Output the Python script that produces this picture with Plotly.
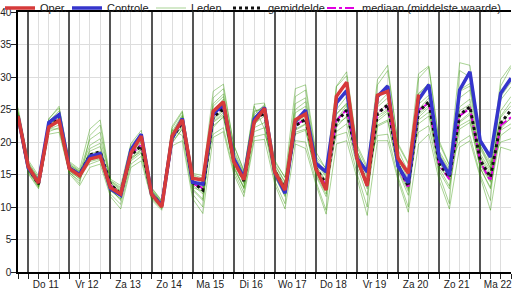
import plotly.graph_objects as go
import pandas as pd

# 6-hourly time steps, Wo 10 18:00 .. Ma 22 18:00
times = [t.strftime("%Y-%m-%d %H:%M") for t in pd.date_range("2024-07-10 18:00", periods=49, freq="6h")]
day_labels = ["Do 11", "Vr 12", "Za 13", "Zo 14", "Ma 15", "Di 16",
              "Wo 17", "Do 18", "Vr 19", "Za 20", "Zo 21", "Ma 22"]
day_noons = [t.strftime("%Y-%m-%d %H:%M") for t in pd.date_range("2024-07-11 12:00", periods=12, freq="D")]
midnights = [t.strftime("%Y-%m-%d %H:%M") for t in pd.date_range("2024-07-11 00:00", periods=12, freq="D")]

oper = [24.0, 16.2, 13.7, 22.3, 23.3, 15.9, 14.8, 17.4, 17.8, 13.0, 12.0, 18.3, 20.9,
        12.0, 10.0, 20.9, 23.4, 14.4, 14.2, 24.7, 26.2, 17.0, 14.2, 23.1, 25.2,
        15.4, 12.6, 23.4, 24.3, 15.9, 12.6, 27.0, 29.2, 17.5, 13.3, 27.2, 27.8,
        17.5, 15.2, 27.3]

controle = [24.0, 16.0, 13.8, 23.0, 24.2, 16.0, 15.0, 17.8, 18.2, 12.8, 11.8, 18.8, 21.2,
            12.0, 10.2, 20.6, 23.6, 13.8, 13.5, 24.3, 25.8, 17.5, 14.5, 23.5, 25.3,
            15.3, 12.1, 23.1, 24.9, 16.7, 15.4, 26.0, 27.9, 17.5, 15.4, 27.0, 28.6,
            16.3, 13.7, 26.5, 28.8, 17.6, 14.9, 28.0, 30.8, 20.2, 17.7, 27.5, 29.8]

gemiddelde = [24.0, 16.0, 13.5, 22.5, 23.5, 16.0, 15.0, 18.0, 18.5, 13.5, 12.0, 18.0, 19.4,
              12.0, 10.3, 20.6, 23.0, 13.8, 12.6, 23.8, 25.2, 17.3, 14.0, 23.3, 24.5,
              15.5, 12.8, 22.5, 23.5, 16.0, 13.5, 23.1, 24.9, 17.5, 13.4, 24.4, 25.7,
              16.5, 13.2, 24.7, 26.2, 16.7, 14.6, 24.2, 25.4, 17.2, 14.6, 22.9, 24.9]

mediaan = [24.0, 16.0, 13.6, 22.6, 23.6, 16.0, 15.0, 17.8, 18.3, 13.4, 12.0, 18.1, 19.6,
           12.0, 10.3, 20.7, 23.2, 13.6, 12.9, 24.0, 25.4, 17.2, 14.1, 23.3, 24.6,
           15.5, 12.6, 22.6, 23.5, 16.0, 13.3, 23.3, 25.0, 17.4, 13.2, 24.6, 25.5,
           16.3, 12.9, 24.9, 26.0, 16.5, 14.3, 24.0, 25.2, 17.0, 14.0, 22.6, 23.8]

lid01 = [25.3, 17.2, 14.8, 23.5, 25.5, 17.0, 15.8, 22.0, 23.4, 14.3, 13.3, 19.8, 21.8, 13.0, 11.0, 22.4, 24.8, 15.2, 14.8, 27.8, 28.9, 19.5, 15.5, 25.8, 26.0, 17.2, 14.5, 28.2, 28.8, 18.5, 15.8, 28.6, 30.8, 19.6, 16.2, 29.6, 31.8, 19.5, 16.6, 30.5, 31.7, 20.2, 16.5, 32.2, 31.8, 20.6, 16.8, 29.6, 31.8]
lid02 = [23.1, 15.1, 12.8, 21.2, 21.5, 15.1, 13.3, 16.1, 16.6, 11.6, 9.7, 16.1, 17.1, 11.1, 9.5, 19.4, 20.2, 11.3, 9.0, 20.7, 21.6, 15.1, 11.6, 20.2, 20.4, 13.5, 9.7, 19.7, 19.0, 13.5, 8.9, 19.7, 20.2, 14.6, 8.7, 20.2, 20.2, 14.1, 9.2, 19.7, 21.2, 14.1, 9.7, 19.2, 20.2, 14.6, 9.5, 19.2, 18.7]
lid03 = [24.5, 16.6, 14.2, 23.0, 24.4, 16.4, 15.3, 19.5, 20.5, 14.0, 12.8, 18.9, 20.6, 12.5, 10.7, 21.3, 24.0, 14.6, 13.8, 25.5, 27.0, 18.4, 15.0, 24.6, 25.5, 16.4, 13.8, 25.0, 26.2, 17.2, 14.8, 26.0, 27.8, 18.6, 15.0, 27.0, 28.8, 18.0, 15.0, 27.5, 29.0, 18.3, 15.6, 28.0, 29.0, 19.0, 15.9, 26.5, 28.5]
lid04 = [23.6, 15.6, 13.1, 22.0, 22.6, 15.6, 14.3, 17.0, 17.4, 12.8, 11.0, 17.1, 18.3, 11.5, 9.9, 20.0, 22.0, 12.8, 11.2, 22.5, 23.8, 16.4, 13.0, 22.2, 23.0, 14.6, 11.6, 21.2, 21.8, 15.0, 12.0, 21.6, 22.8, 16.3, 11.8, 22.6, 23.4, 15.5, 11.8, 22.8, 24.0, 15.5, 12.8, 22.0, 23.0, 16.0, 12.8, 21.0, 22.2]
lid05 = [24.1, 16.2, 13.7, 22.8, 24.0, 16.2, 15.2, 18.6, 19.3, 13.7, 12.3, 18.4, 19.9, 12.2, 10.4, 20.9, 23.5, 14.2, 13.1, 24.6, 26.0, 17.8, 14.4, 23.9, 25.2, 15.9, 13.2, 23.4, 24.6, 16.5, 14.0, 24.2, 26.0, 18.0, 14.0, 25.4, 26.8, 17.0, 13.8, 25.8, 27.2, 17.2, 15.2, 25.4, 26.6, 17.8, 15.2, 24.0, 26.2]
lid06 = [23.9, 15.8, 13.3, 22.3, 23.1, 15.8, 14.7, 17.5, 17.9, 13.2, 11.6, 17.6, 18.9, 11.8, 10.1, 20.3, 22.5, 13.4, 12.0, 23.1, 24.5, 16.9, 13.6, 22.8, 24.0, 15.1, 12.3, 21.8, 22.7, 15.6, 13.0, 22.3, 24.0, 17.1, 12.8, 23.6, 24.8, 16.1, 12.7, 23.8, 25.3, 16.3, 14.1, 23.2, 24.5, 16.7, 14.0, 22.0, 23.8]
lid07 = [24.8, 16.9, 14.5, 22.0, 22.0, 15.4, 13.6, 21.0, 22.6, 13.9, 12.6, 19.6, 21.2, 12.9, 10.9, 21.9, 21.0, 12.0, 10.0, 26.8, 28.2, 19.6, 15.6, 25.5, 22.0, 14.0, 10.5, 27.0, 28.0, 17.8, 15.9, 21.0, 21.5, 15.2, 10.0, 28.8, 31.0, 19.8, 16.8, 21.5, 22.5, 15.0, 10.5, 31.0, 30.0, 19.5, 16.5, 20.0, 20.5]
lid08 = [23.4, 15.3, 13.0, 23.6, 25.2, 16.8, 15.6, 16.6, 17.2, 12.0, 10.4, 16.6, 17.8, 11.3, 9.7, 22.1, 24.6, 15.0, 14.4, 21.2, 22.2, 15.6, 12.2, 20.8, 21.2, 16.9, 14.6, 20.2, 20.0, 14.0, 9.5, 28.5, 30.2, 19.2, 15.8, 21.0, 21.2, 14.6, 10.0, 29.8, 31.5, 19.8, 16.4, 20.0, 21.0, 15.0, 11.0, 28.6, 31.5]
lid09 = [24.3, 16.4, 14.0, 21.6, 22.2, 15.3, 14.0, 19.0, 19.8, 12.5, 11.3, 19.2, 20.2, 12.6, 10.6, 20.0, 23.8, 14.8, 13.4, 22.2, 24.0, 16.0, 13.0, 24.2, 25.8, 16.0, 13.4, 24.5, 25.5, 16.8, 14.6, 25.0, 27.0, 18.5, 14.6, 23.2, 24.5, 16.9, 13.6, 26.8, 28.6, 18.0, 15.4, 23.0, 24.2, 16.4, 13.8, 24.8, 27.0]
lid10 = [23.7, 15.9, 13.9, 23.2, 24.8, 16.5, 15.5, 18.2, 18.6, 13.4, 12.5, 17.5, 18.5, 11.8, 10.2, 21.0, 22.2, 13.0, 12.4, 24.8, 26.6, 17.0, 14.2, 22.6, 24.8, 15.4, 12.2, 22.0, 22.8, 15.3, 12.5, 23.5, 25.6, 17.8, 13.5, 25.8, 27.5, 17.5, 14.2, 25.0, 26.8, 16.9, 14.8, 26.8, 28.0, 18.2, 15.6, 23.8, 25.6]
lid11 = [24.6, 16.5, 13.4, 22.6, 23.8, 16.1, 14.9, 17.2, 17.6, 13.1, 12.0, 18.2, 19.6, 12.3, 10.5, 20.5, 23.3, 14.0, 12.8, 23.6, 25.0, 18.0, 14.8, 23.6, 24.2, 15.6, 12.9, 23.0, 23.8, 16.2, 13.8, 22.8, 23.8, 17.2, 13.6, 24.0, 25.0, 16.5, 13.4, 24.2, 25.6, 16.2, 14.4, 24.8, 25.8, 17.6, 14.6, 22.4, 23.6]
lid12 = [23.3, 15.4, 13.6, 22.9, 23.4, 15.9, 15.0, 17.8, 18.3, 13.8, 12.1, 18.0, 19.2, 11.9, 10.3, 20.6, 23.1, 13.7, 12.3, 23.4, 24.8, 17.2, 13.8, 23.0, 24.6, 15.2, 12.6, 22.6, 23.4, 15.8, 13.2, 23.4, 25.1, 17.4, 13.1, 24.4, 26.0, 16.2, 12.9, 24.5, 26.0, 16.8, 14.5, 24.3, 25.5, 17.0, 14.3, 23.0, 24.6]
lid13 = [24.2, 16.7, 14.4, 22.2, 23.0, 16.6, 15.4, 20.4, 21.5, 14.1, 13.0, 18.7, 20.0, 12.7, 10.8, 21.6, 24.2, 14.9, 14.0, 25.9, 27.4, 18.8, 15.2, 24.8, 25.0, 16.6, 13.9, 25.9, 26.8, 17.6, 15.0, 24.4, 25.8, 17.0, 13.2, 22.4, 23.2, 15.7, 12.4, 23.4, 24.6, 16.0, 13.2, 22.5, 23.4, 16.0, 13.0, 21.8, 22.8]
lid14 = [23.8, 15.7, 13.2, 22.4, 23.6, 15.5, 14.4, 17.6, 18.0, 12.6, 11.2, 17.3, 18.8, 11.6, 9.9, 19.8, 22.0, 12.6, 11.0, 23.0, 24.2, 16.2, 12.8, 21.6, 22.2, 14.8, 11.8, 21.5, 22.0, 14.8, 11.6, 25.8, 27.8, 18.6, 15.2, 26.8, 28.6, 18.8, 15.4, 27.4, 28.6, 18.6, 16.0, 27.8, 28.6, 19.4, 16.0, 27.0, 29.2]

leden = [lid01, lid02, lid03, lid04, lid05, lid06, lid07, lid08, lid09, lid10, lid11, lid12, lid13, lid14]

FONT = "Liberation Sans, Arial, sans-serif"
W, H = 513, 289
fig = go.Figure()

for k, lid in enumerate(leden):
    fig.add_trace(go.Scatter(
        x=times, y=lid, mode="lines", name="Leden",
        legend="legend3", showlegend=(k == 0),
        line=dict(color="rgba(50,150,0,0.42)", width=1), hoverinfo="skip"))

fig.add_trace(go.Scatter(x=times, y=mediaan, mode="lines", name="mediaan (middelste waarde)",
                         legend="legend5", line=dict(color="#e000e0", width=2, dash="dashdot")))
fig.add_trace(go.Scatter(x=times, y=gemiddelde, mode="lines", name="gemiddelde",
                         legend="legend4", line=dict(color="#111111", width=3, dash="dot")))
fig.add_trace(go.Scatter(x=times, y=controle, mode="lines", name="Controle",
                         legend="legend2", line=dict(color="#3535cc", width=3.5)))
fig.add_trace(go.Scatter(x=times[:len(oper)], y=oper, mode="lines", name="Oper.",
                         legend="legend", line=dict(color="#d63a3a", width=3.5)))

# label text for every 6-hourly tick: day name at noon only
tick_text = [day_labels[day_noons.index(t)] if t in day_noons else "" for t in times]


def legend_at(text_px):
    # one-entry legend whose text starts at the given pixel position
    return dict(orientation="h", xref="container", yref="container",
                x=(text_px - 40) / W, xanchor="left", y=1 - 8 / H, yanchor="middle",
                bgcolor="rgba(0,0,0,0)", borderwidth=0, font=dict(size=11, color="#222"),
                itemwidth=30)


xrange = [times[0], times[-1]]
fig.update_layout(
    width=W, height=H,
    margin=dict(l=18, r=2, t=12, b=17, autoexpand=False),
    paper_bgcolor="white", plot_bgcolor="white",
    font=dict(family=FONT, size=11, color="#222"),
    showlegend=True,
    legend=legend_at(35), legend2=legend_at(107), legend3=legend_at(191),
    legend4=legend_at(268), legend5=legend_at(362),
    xaxis=dict(
        type="date", range=xrange,
        tickmode="array", tickvals=times, ticktext=tick_text,
        ticks="outside", ticklen=5, tickcolor="#222", tickwidth=1,
        showgrid=True, gridcolor="#dddddd", gridwidth=1,
        showline=True, linecolor="#000", linewidth=2, mirror=True,
        zeroline=False, tickfont=dict(size=10, color="#222"),
        ticklabelshift=-3, ticklabelstandoff=-3),
    xaxis2=dict(
        type="date", range=xrange, overlaying="x", anchor="y", side="bottom",
        tickmode="array", tickvals=midnights, ticktext=[""] * len(midnights),
        ticks="", showticklabels=False,
        showgrid=True, gridcolor="#555555", gridwidth=1.5,
        showline=False, zeroline=False),
    yaxis=dict(
        range=[0, 40], tickmode="array", tickvals=[0, 5, 10, 15, 20, 25, 30, 35, 40],
        ticks="outside", ticklen=5, tickcolor="#222",
        showgrid=True, gridcolor="#dddddd", gridwidth=1,
        showline=True, linecolor="#000", linewidth=1.5,
        zeroline=False, tickfont=dict(size=10, color="#222"), ticklabelstandoff=-2),
)
# invisible helper trace so the midnight grid axis is drawn
fig.add_trace(go.Scatter(x=[times[0]], y=[None], xaxis="x2", showlegend=False,
                         hoverinfo="skip", mode="lines"))

fig.write_html("out.html")
